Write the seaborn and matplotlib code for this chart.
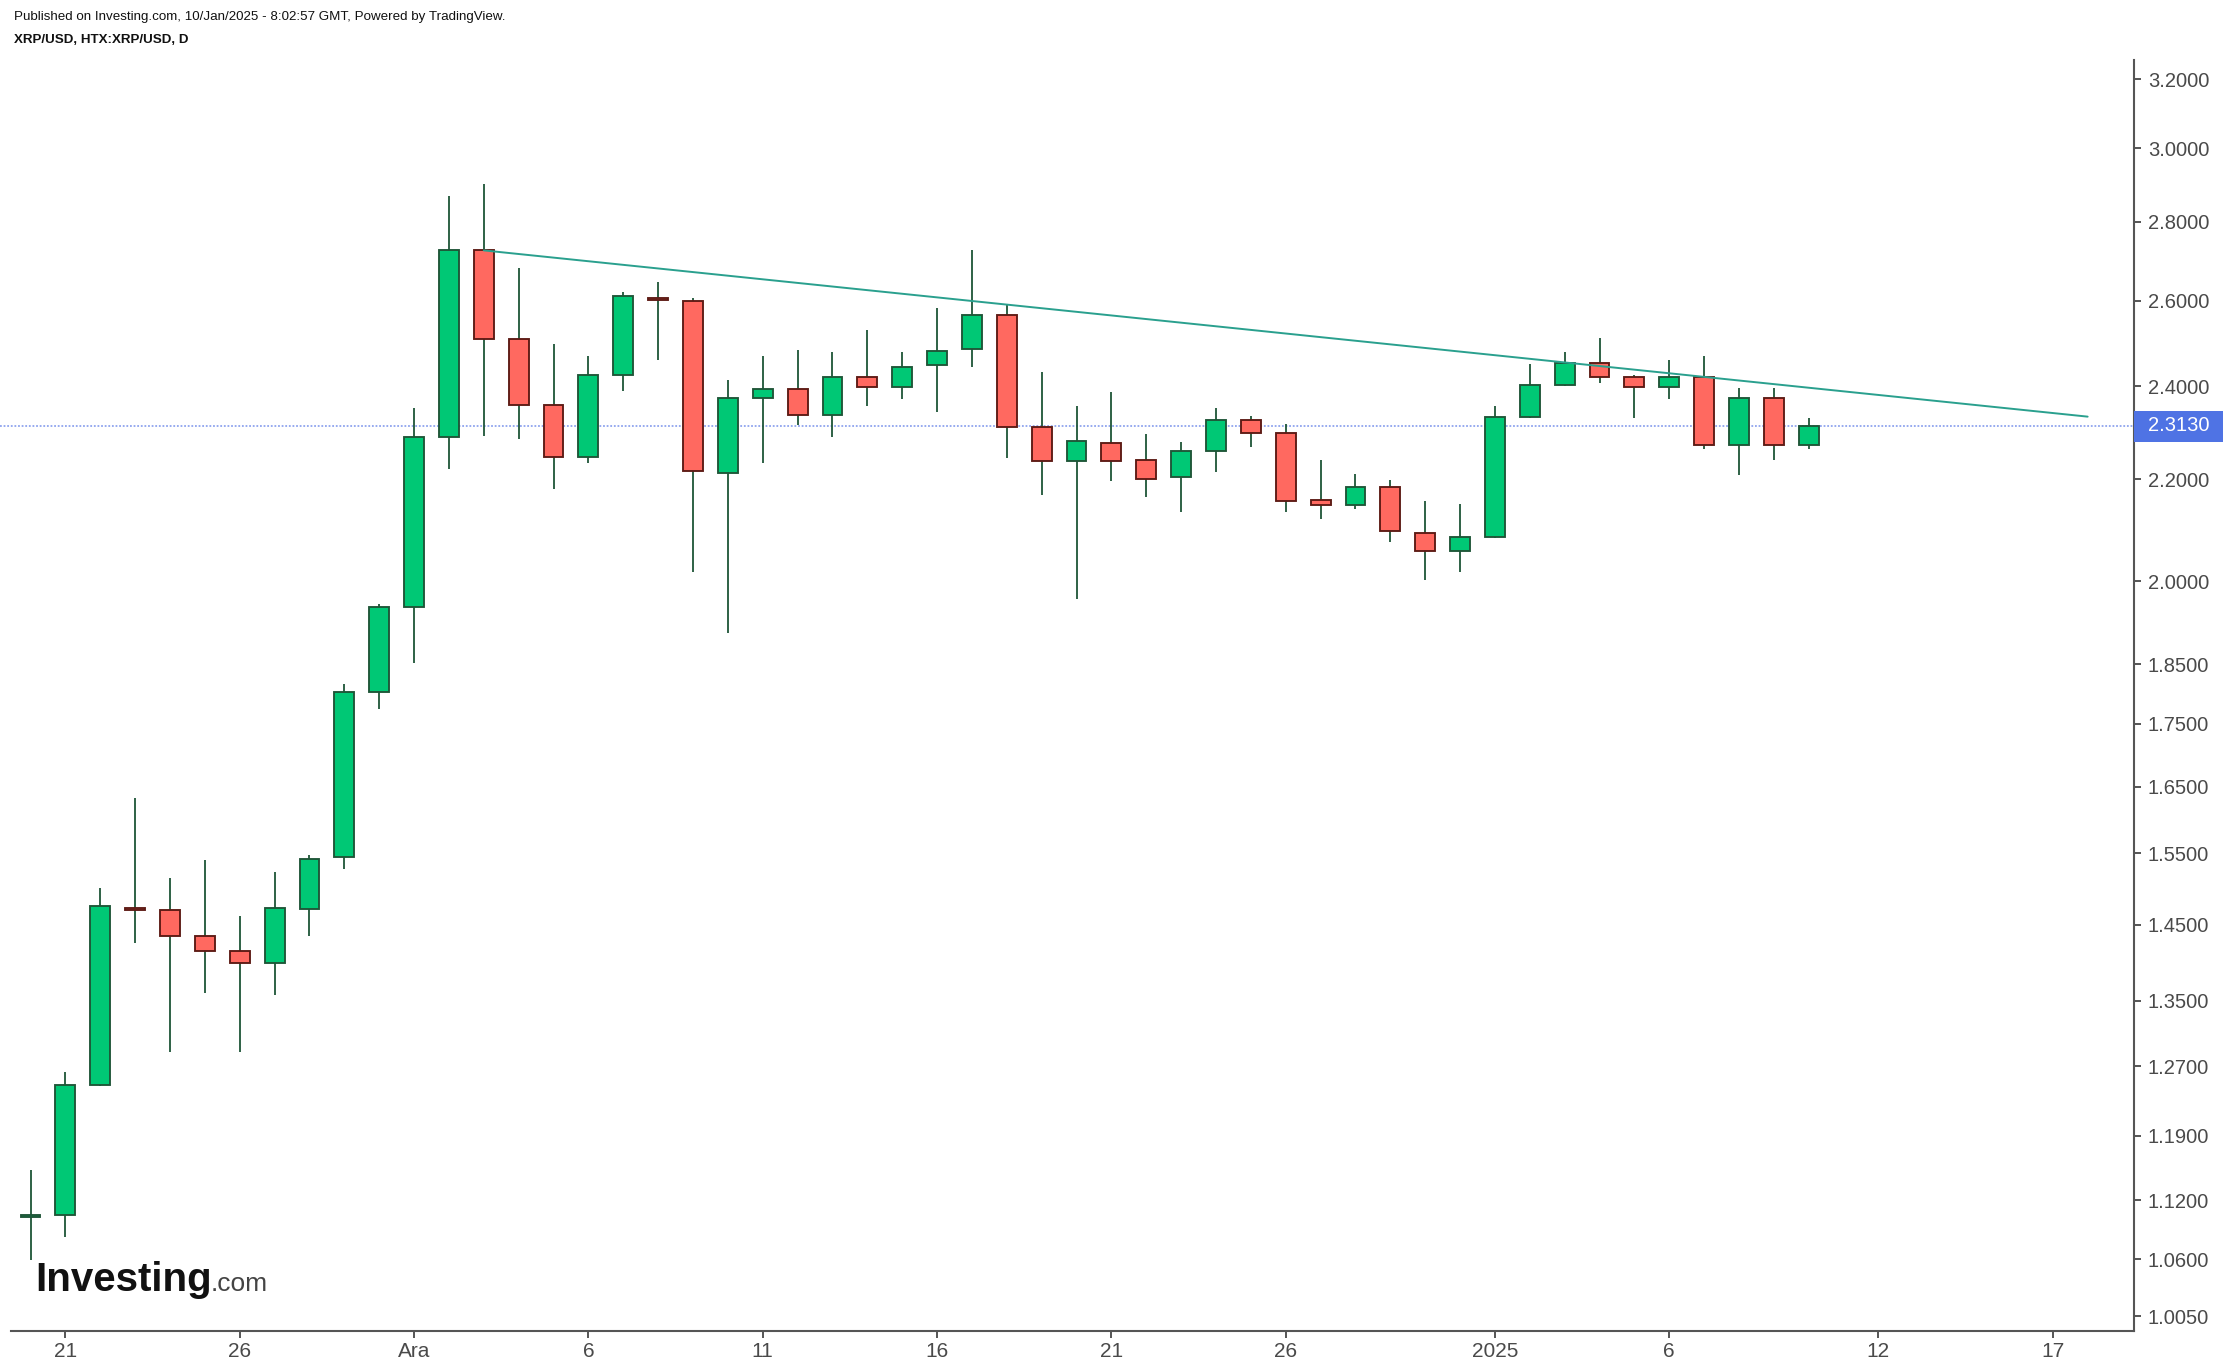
import matplotlib
matplotlib.use("Agg")
import matplotlib.pyplot as plt
import matplotlib.dates as mdates
import matplotlib.transforms as mtransforms
from matplotlib.patches import Rectangle
from matplotlib.ticker import FixedLocator, FixedFormatter, NullLocator
import numpy as np
import pandas as pd
import seaborn as sns

# daily candles, 20 Nov 2024 .. 10 Jan 2025
dates = pd.date_range("2024-11-20", "2025-01-10", freq="D")
opens = [1.103, 1.105, 1.248, 1.472, 1.470, 1.434, 1.415, 1.399, 1.471, 1.545,
         1.802, 1.953, 2.290, 2.726, 2.509, 2.359, 2.247, 2.426, 2.607, 2.600,
         2.213, 2.373, 2.395, 2.336, 2.422, 2.399, 2.449, 2.486, 2.567, 2.311,
         2.239, 2.277, 2.240, 2.204, 2.260, 2.325, 2.298, 2.157, 2.148, 2.185,
         2.093, 2.058, 2.084, 2.332, 2.403, 2.454, 2.422, 2.399, 2.422, 2.272,
         2.373, 2.272]
highs = [1.152, 1.263, 1.501, 1.632, 1.515, 1.541, 1.462, 1.523, 1.548, 1.817,
         1.958, 2.352, 2.869, 2.901, 2.682, 2.498, 2.470, 2.622, 2.647, 2.606,
         2.415, 2.470, 2.484, 2.479, 2.531, 2.479, 2.583, 2.727, 2.591, 2.433,
         2.356, 2.387, 2.295, 2.278, 2.352, 2.335, 2.316, 2.240, 2.211, 2.199,
         2.155, 2.150, 2.357, 2.451, 2.479, 2.512, 2.425, 2.461, 2.470, 2.397,
         2.397, 2.330]
lows = [1.059, 1.082, 1.246, 1.425, 1.287, 1.360, 1.287, 1.357, 1.435, 1.528,
        1.774, 1.852, 2.221, 2.292, 2.284, 2.180, 2.234, 2.389, 2.461, 2.018,
        1.905, 2.234, 2.315, 2.289, 2.357, 2.371, 2.344, 2.443, 2.245, 2.167,
        1.966, 2.196, 2.163, 2.134, 2.216, 2.267, 2.134, 2.119, 2.139, 2.075,
        2.003, 2.018, 2.082, 2.330, 2.401, 2.407, 2.331, 2.371, 2.263, 2.208,
        2.241, 2.263]
closes = [1.105, 1.248, 1.475, 1.470, 1.434, 1.415, 1.399, 1.472, 1.542, 1.802,
          1.953, 2.290, 2.726, 2.509, 2.359, 2.247, 2.426, 2.611, 2.603, 2.218,
          2.373, 2.395, 2.336, 2.422, 2.399, 2.445, 2.482, 2.567, 2.311, 2.239,
          2.281, 2.239, 2.200, 2.260, 2.325, 2.298, 2.156, 2.148, 2.185, 2.096,
          2.058, 2.085, 2.333, 2.404, 2.454, 2.421, 2.399, 2.422, 2.272, 2.373,
          2.272, 2.313]

last_price = 2.313
trend_dates = ["2024-12-03", "2025-01-18"]
trend_prices = [2.726, 2.333]

y_ticks = [3.2, 3.0, 2.8, 2.6, 2.4, 2.2, 2.0, 1.85, 1.75, 1.65, 1.55, 1.45,
           1.35, 1.27, 1.19, 1.12, 1.06, 1.005]
x_tick_dates = ["2024-11-21", "2024-11-26", "2024-12-01", "2024-12-06", "2024-12-11",
                "2024-12-16", "2024-12-21", "2024-12-26", "2025-01-01", "2025-01-06",
                "2025-01-12", "2025-01-17"]
x_tick_labels = ["21", "26", "Ara", "6", "11", "16", "21", "26", "2025", "6", "12", "17"]

up_fill, up_edge = "#00c875", "#1e5537"
dn_fill, dn_edge = "#ff6960", "#5c1a14"
wick_col = "#1e5537"
axis_col = "#555555"

sns.set_style("white")
plt.rcParams["font.family"] = ["Liberation Sans", "DejaVu Sans"]

df = pd.DataFrame({"date": dates, "open": opens, "high": highs,
                   "low": lows, "close": closes})
df["x"] = mdates.date2num(df["date"])
df["up"] = df["close"] >= df["open"]

fig = plt.figure(figsize=(22.3, 13.7), dpi=100)
ax = fig.add_axes([11 / 2230, 39 / 1370, 2123 / 2230, 1271 / 1370])
ax.set_yscale("log")

# wicks then bodies
ax.vlines(df["x"], df["low"], df["high"], color=wick_col, lw=1.3, zorder=2)
body_lo = np.minimum(df["open"], df["close"])
body_h = np.maximum(np.abs(df["close"] - df["open"]), 0.0015)
ax.bar(df["x"], body_h, bottom=body_lo, width=0.57,
       color=np.where(df["up"], up_fill, dn_fill),
       edgecolor=np.where(df["up"], up_edge, dn_edge),
       linewidth=1.35, zorder=3)

# trendline
tx = mdates.date2num(pd.to_datetime(trend_dates))
sns.lineplot(x=tx, y=trend_prices, ax=ax, color="#2aa08e", lw=1.4, zorder=4)

# last price line + label
blend = mtransforms.blended_transform_factory(ax.transAxes, ax.transData)
ax.plot([-11 / 2123, 1.0], [last_price, last_price], transform=blend, clip_on=False,
        color="#8fa4ee", lw=1.3, ls=(0, (1, 1)), zorder=1)
ax.add_patch(Rectangle((0.0005, 2.279), 89 / 2123, 2.346 - 2.279, transform=blend,
                       facecolor="#4f73e4", edgecolor="none", clip_on=False, zorder=5))
ax.text(1.0 + 14 / 2123, last_price, f"{last_price:.4f}", transform=blend,
        color="white", fontsize=14.5, va="center", ha="left", zorder=6)
ax.patches[-1].set_x(1.0)

# axes styling
x0 = mdates.date2num(pd.Timestamp("2024-11-20"))
ax.set_xlim(x0 - 0.56, x0 + 42 + 18.33)
ax.set_ylim(0.991, 3.258)
for s in ["top", "left"]:
    ax.spines[s].set_visible(False)
for s in ["right", "bottom"]:
    ax.spines[s].set_color(axis_col)
    ax.spines[s].set_linewidth(1.5)

ax.yaxis.tick_right()
ax.yaxis.set_major_locator(FixedLocator(y_ticks))
ax.yaxis.set_major_formatter(FixedFormatter([f"{v:.4f}" for v in y_ticks]))
ax.yaxis.set_minor_locator(NullLocator())
ax.tick_params(axis="y", which="major", right=True, left=False, length=5, width=1.4,
               color=axis_col, labelcolor="#4a4a4a", labelsize=14.5, pad=5)

ax.set_xticks(mdates.date2num(pd.to_datetime(x_tick_dates)))
ax.set_xticklabels(x_tick_labels)
ax.xaxis.set_minor_locator(NullLocator())
ax.tick_params(axis="x", bottom=True, length=5, width=1.4, color=axis_col,
               labelcolor="#4a4a4a", labelsize=15, pad=3)
ax.set_xlabel("")
ax.set_ylabel("")
ax.grid(False)

# header and logo
fig.text(14 / 2230, 1 - 17 / 1370, "Published on Investing.com, 10/Jan/2025 - 8:02:57 GMT, Powered by TradingView.",
         fontsize=9.6, va="center", ha="left", color="#111111")
fig.text(14 / 2230, 1 - 40 / 1370, "XRP/USD, HTX:XRP/USD, D", fontsize=9.6,
         weight="bold", va="center", ha="left", color="#111111")
fig.text(35 / 2230, 1 - 1291 / 1370, "Investing", fontsize=29, weight="bold",
         color="#111111", va="baseline", ha="left")
fig.text(211 / 2230, 1 - 1291 / 1370, ".com", fontsize=19, color="#444444",
         va="baseline", ha="left")

fig.savefig("out.png", dpi=100)
